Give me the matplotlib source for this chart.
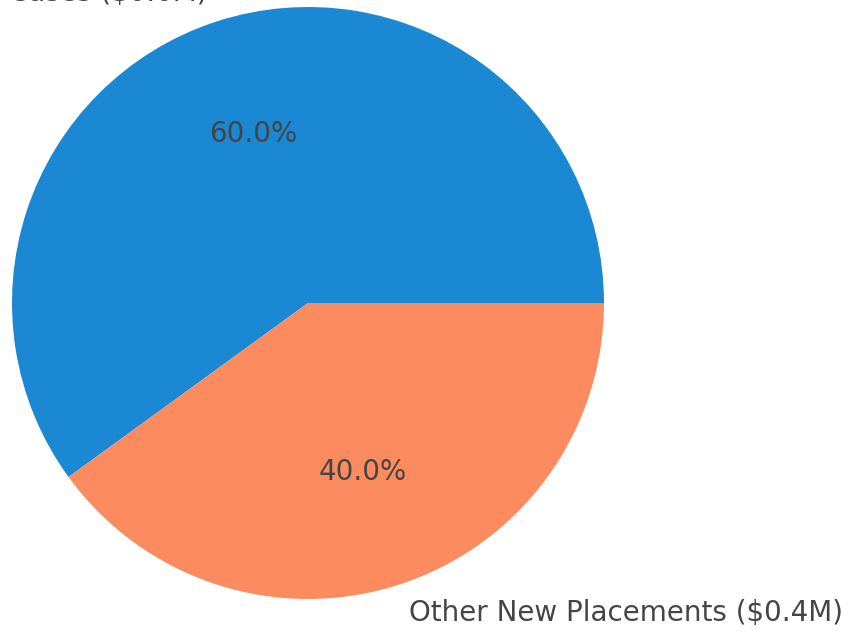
import matplotlib
matplotlib.use("Agg")
from matplotlib import pyplot as plt

# 资金分配
labels = ["Existing Cases ($0.6M)", "Other New Placements ($0.4M)"]
values = [0.6, 0.4]
colors = ["#1b88d3", "#fc8b60"]

fig = plt.figure(figsize=(8.51, 6.33), dpi=100)

# 圆心 (308, 302) px，半径 296 px
W, H = 851, 633
cx, cy, r = 308, 633 - 303, 296
ax = fig.add_axes([(cx - r) / W, (cy - r) / H, 2 * r / W, 2 * r / H])

wedges, texts, autotexts = ax.pie(values, labels=labels, colors=colors,
                                  autopct="%1.1f%%", startangle=0,
                                  textprops={"fontsize": 20, "color": "#454545"})
ax.set_xlim(-1, 1)
ax.set_ylim(-1, 1)
ax.set_aspect("equal")

fig.savefig("out.png", dpi=100)
